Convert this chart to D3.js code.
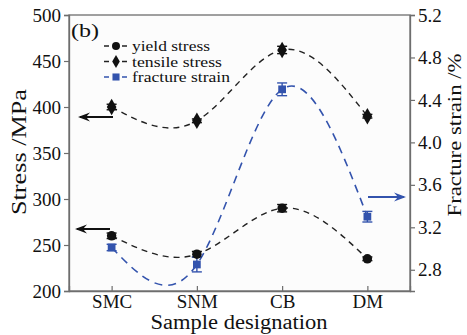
<!DOCTYPE html>
<html>
<head>
<meta charset="utf-8">
<script src="https://cdn.jsdelivr.net/npm/d3@7"></script>
<style>
  body { margin: 0; background: #fff; }
  svg text { font-family: "Liberation Serif", serif; fill: #111; }
</style>
</head>
<body>
<svg id="chart" width="467" height="335"></svg>
<script>
const samples = ["SMC", "SNM", "CB", "DM"];
const yieldStress = [260, 240, 290, 235];
const yieldErr = [3, 3, 4, 2];
const tensileStress = [400, 385, 462, 390];
const tensileErr = [3, 2, 4, 2];
const fractureStrain = [3.01, 2.85, 4.5, 3.3];
const fractureErr = [0.03, 0.07, 0.06, 0.05];
const stressTicks = [200, 250, 300, 350, 400, 450, 500];
const strainTicks = [2.8, 3.2, 3.6, 4.0, 4.4, 4.8, 5.2];

const pLeft = 69, pRight = 410, pTop = 15, pBottom = 291;
const blue = "#3353ad";
const axisGray = "#6e6e6e";
const serif = "Liberation Serif";

const svg = d3.select("#chart");

const x = d3.scalePoint().domain(samples).range([pLeft, pRight]).padding(0.5);
const yL = d3.scaleLinear().domain([200, 500]).range([pBottom, pTop]);
const yR = d3.scaleLinear().domain([2.6, 5.2]).range([pBottom, pTop]);

// plot frame
svg.append("rect")
  .attr("x", pLeft).attr("y", pTop)
  .attr("width", pRight - pLeft).attr("height", pBottom - pTop)
  .attr("fill", "#fcfcfc").attr("stroke", axisGray).attr("stroke-width", 1.3);

// axes
const axL = svg.append("g").attr("transform", `translate(${pLeft},0)`)
  .call(d3.axisLeft(yL).tickValues(stressTicks).tickSize(5).tickPadding(3));
const axR = svg.append("g").attr("transform", `translate(${pRight},0)`)
  .call(d3.axisRight(yR).tickValues(strainTicks).tickSize(5).tickPadding(3)
    .tickFormat(d3.format(".1f")));
const axB = svg.append("g").attr("transform", `translate(0,${pBottom})`)
  .call(d3.axisBottom(x).tickSize(-5).tickPadding(4));

[axL, axR, axB].forEach((g) => {
  g.attr("font-family", serif);
  g.select(".domain").attr("stroke", axisGray).attr("stroke-width", 1.3);
  g.selectAll(".tick line").attr("stroke", axisGray).attr("stroke-width", 1.2);
  g.selectAll(".tick text").attr("font-size", 19).attr("fill", "#111");
});

// axis titles
svg.append("text")
  .attr("transform", "translate(26,152) rotate(-90)")
  .attr("text-anchor", "middle").attr("font-size", 20)
  .attr("textLength", 126).attr("lengthAdjust", "spacingAndGlyphs")
  .text("Stress /MPa");
svg.append("text")
  .attr("transform", "translate(461,135) rotate(-90)")
  .attr("text-anchor", "middle").attr("font-size", 19)
  .attr("textLength", 163).attr("lengthAdjust", "spacingAndGlyphs")
  .text("Fracture strain /%");
svg.append("text")
  .attr("x", 239).attr("y", 329)
  .attr("text-anchor", "middle").attr("font-size", 20)
  .attr("textLength", 177).attr("lengthAdjust", "spacingAndGlyphs")
  .text("Sample designation");

svg.append("text")
  .attr("x", 71).attr("y", 37).attr("font-size", 19)
  .attr("textLength", 28).attr("lengthAdjust", "spacingAndGlyphs")
  .text("(b)");

// curves
const line = (scale, vals) =>
  d3.line().curve(d3.curveNatural)
    .x((d, i) => x(samples[i])).y((d) => scale(d))(vals);

svg.append("path").attr("d", line(yL, yieldStress))
  .attr("fill", "none").attr("stroke", "#222").attr("stroke-width", 1.4)
  .attr("stroke-dasharray", "6,5");
svg.append("path").attr("d", line(yL, tensileStress))
  .attr("fill", "none").attr("stroke", "#222").attr("stroke-width", 1.4)
  .attr("stroke-dasharray", "6,5");
svg.append("path").attr("d", line(yR, fractureStrain))
  .attr("fill", "none").attr("stroke", blue).attr("stroke-width", 1.6)
  .attr("stroke-dasharray", "8,6");

// error bars
function errorBars(scale, vals, errs, color) {
  const g = svg.append("g").attr("stroke", color).attr("stroke-width", 1.4);
  vals.forEach((v, i) => {
    const cx = x(samples[i]);
    const y1 = scale(v - errs[i]), y2 = scale(v + errs[i]);
    g.append("line").attr("x1", cx).attr("x2", cx).attr("y1", y1).attr("y2", y2);
    g.append("line").attr("x1", cx - 5).attr("x2", cx + 5).attr("y1", y1).attr("y2", y1);
    g.append("line").attr("x1", cx - 5).attr("x2", cx + 5).attr("y1", y2).attr("y2", y2);
  });
}
errorBars(yL, yieldStress, yieldErr, "#111");
errorBars(yL, tensileStress, tensileErr, "#111");
errorBars(yR, fractureStrain, fractureErr, blue);

// markers
const circle = d3.symbol().type(d3.symbolCircle).size(70);
const diamond = d3.symbol().type(d3.symbolDiamond).size(80);
const square = d3.symbol().type(d3.symbolSquare).size(60);

svg.selectAll(".m-yield").data(yieldStress).join("path")
  .attr("d", circle).attr("fill", "#111")
  .attr("transform", (d, i) => `translate(${x(samples[i])},${yL(d)})`);
svg.selectAll(".m-tensile").data(tensileStress).join("path")
  .attr("d", diamond).attr("fill", "#111")
  .attr("transform", (d, i) => `translate(${x(samples[i])},${yL(d)})`);
svg.selectAll(".m-fracture").data(fractureStrain).join("path")
  .attr("d", square).attr("fill", blue)
  .attr("transform", (d, i) => `translate(${x(samples[i])},${yR(d)})`);

// legend
const legend = [
  { label: "yield stress", sym: d3.symbolCircle, color: "#222", w: 78 },
  { label: "tensile stress", sym: d3.symbolDiamond, color: "#222", w: 90 },
  { label: "fracture strain", sym: d3.symbolSquare, color: blue, w: 98 },
];
legend.forEach((d, i) => {
  const ly = 46 + i * 15.5;
  svg.append("line").attr("x1", 103).attr("x2", 129).attr("y1", ly).attr("y2", ly)
    .attr("stroke", d.color).attr("stroke-width", 1.4).attr("stroke-dasharray", "5,4")
    .attr("stroke-dashoffset", -1);
  svg.append("path").attr("d", d3.symbol().type(d.sym).size(50)())
    .attr("fill", i === 2 ? blue : "#111")
    .attr("transform", `translate(116,${ly})`);
  svg.append("text").attr("x", 132).attr("y", ly + 5).attr("font-size", 15.5)
    .attr("textLength", d.w).attr("lengthAdjust", "spacingAndGlyphs")
    .text(d.label);
});

// arrows
function arrow(x1, x2, y, color) {
  const dir = Math.sign(x2 - x1);
  svg.append("line").attr("x1", x1).attr("x2", x2 - dir * 2).attr("y1", y).attr("y2", y)
    .attr("stroke", color).attr("stroke-width", 2);
  svg.append("path")
    .attr("d", `M${x2},${y} L${x2 - dir * 12},${y - 4.5} L${x2 - dir * 8},${y} L${x2 - dir * 12},${y + 4.5} Z`)
    .attr("fill", color);
}
arrow(113, 78, 117, "#111");
arrow(110, 75, 229, "#111");
arrow(368, 406, 197, blue);
</script>
</body>
</html>
